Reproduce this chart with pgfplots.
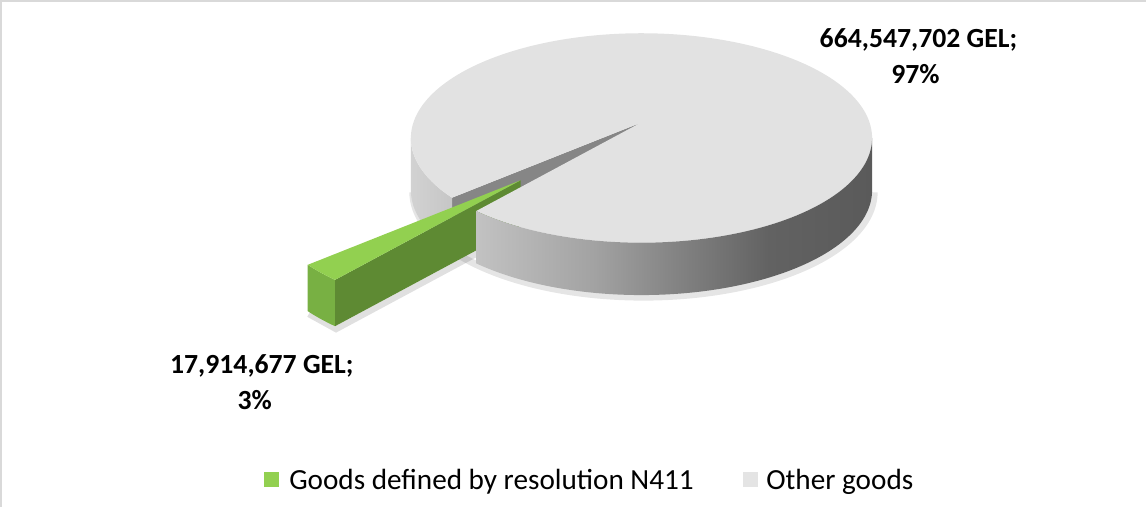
\documentclass[border=0pt]{standalone}
\usepackage{pgfplots}
\pgfplotsset{compat=1.18}
\usepackage{pgfplotstable}
\usepackage{fontspec}
\setmainfont{Carlito}
\definecolor{frameg}{HTML}{D9D9D9}
\definecolor{topg}{HTML}{E2E2E2}
\definecolor{legg}{HTML}{E4E4E4}
\definecolor{notchg}{HTML}{868686}
\definecolor{rimL1}{HTML}{D2D2D2}
\definecolor{rimL2}{HTML}{C6C6C6}
\definecolor{rimR1}{HTML}{C2C2C2}
\definecolor{rimR2}{HTML}{A2A2A2}
\definecolor{rimR3}{HTML}{7E7E7E}
\definecolor{rimR4}{HTML}{626262}
\definecolor{rimR5}{HTML}{5A5A5A}
\definecolor{gtop}{HTML}{92D050}
\definecolor{grim}{HTML}{78B043}
\definecolor{gdark}{HTML}{5E8A33}
\pgfdeclarehorizontalshading{rimshade}{100bp}{color(0bp)=(rimR1); color(25bp)=(rimR1); color(40bp)=(rimR2); color(52bp)=(rimR3); color(62bp)=(rimR4); color(75bp)=(rimR5); color(100bp)=(rimR5)}

\pgfplotstableread{
label value
N411 17914677
Other 664547702
}\pietable
\pgfplotstablegetelem{0}{value}\of\pietable \edef\valA{\pgfplotsretval}
\pgfplotstablegetelem{1}{value}\of\pietable \edef\valB{\pgfplotsretval}
% geometry (pixels, y downward)
\def\CX{646}\def\CY{148}\def\RX{229}\def\RY{104}
\def\AX{645}\def\AY{133}\def\H{52}
\def\GX{526}\def\GY{190}\def\GK{1.13}\def\GH{46}
\def\MidAng{140.5}
\edef\tSpan{\fpeval{round(360*\valA/(\valA+\valB),4)}}
\edef\tA{\fpeval{round(\MidAng-\tSpan/2,4)}}
\edef\tB{\fpeval{round(\MidAng+\tSpan/2,4)}}
\edef\tAA{\fpeval{round(\tA+360,4)}}

\begin{document}
\begin{tikzpicture}
\begin{axis}[
  scale only axis, width=1147pt, height=514pt,
  xmin=0, xmax=1147, ymin=0, ymax=514, y dir=reverse,
  hide axis, clip=false,
  declare function={
    ex(\t)=\CX+\RX*cos(\t);
    ey(\t)=\CY+\RY*sin(\t);
    cl(\u)=min(max(\u,0),1);
    px(\t,\a,\k)=\a+\k*(ex(\t)-\AX);
    py(\t,\a,\k)=\a+\k*(ey(\t)-\AY);
    rt(\s,\a,\b)=\a+(\b-\a)*cl(\s)-(\b-\a)*cl(\s-2);
    ro(\s,\h)=\h*cl(\s-1);
    wt(\s,\a,\b)=\a+(\b-\a)*cl(\s);
    ww(\s)=cl(\s-1);
  },
  legend style={at={(axis description cs:0.2337,0.0514)}, anchor=west,
    draw=none, fill=none, legend columns=2,
    font=\fontsize{29}{35}\selectfont,
    /tikz/every even column/.append style={column sep=47pt}},
  legend cell align=left,
]
% chart frame
\addplot[forget plot, draw=frameg, line width=2pt] coordinates {(10,514) (10,12) (1147,12)};

% soft shadows
\addplot[forget plot, draw=black, opacity=0.10, line width=7pt, domain=0:180, samples=91]
  ({ex(x)+2}, {ey(x)+\H+2});
\addplot[forget plot, draw=black, opacity=0.12, line width=6pt, samples at={0,1,2}]
  ({px(\tB,\GX,\GK)+(px(\tA,\GX,\GK)-px(\tB,\GX,\GK))*cl(x)+(\GX-px(\tA,\GX,\GK))*cl(x-1)+1},
   {py(\tB,\GY,\GK)+\GH+3+(py(\tA,\GY,\GK)-py(\tB,\GY,\GK))*cl(x)+(\GY-py(\tA,\GY,\GK))*cl(x-1)});

% gray: radial face at tB visible through the notch
\addplot[forget plot, draw=none, fill=notchg, samples at={0,1,2,3}]
  ({\AX+(px(\tB,\AX,1)-\AX)*(cl(x)-cl(x-2))},
   {\AY+(py(\tB,\AY,1)-\AY)*(cl(x)-cl(x-2))+\H*cl(x-1)});
% gray: left rim
\addplot[forget plot, draw=none, left color=rimL1, right color=rimL2, domain=0:3, samples=151]
  ({px(rt(x,\tB,180),\AX,1)}, {py(rt(x,\tB,180),\AY,1)+ro(x,\H)});

% green slice: outer rim
\addplot[forget plot, draw=none, fill=grim, domain=0:3, samples=91]
  ({px(rt(x,\tA,\tB),\GX,\GK)}, {py(rt(x,\tA,\tB),\GY,\GK)+ro(x,\GH)});
% green slice: radial face at tA
\addplot[forget plot, draw=none, fill=gdark, samples at={0,1,2,3}]
  ({\GX+(px(\tA,\GX,\GK)-\GX)*(cl(x)-cl(x-2))},
   {\GY+(py(\tA,\GY,\GK)-\GY)*(cl(x)-cl(x-2))+\GH*cl(x-1)});
% green slice: top face
\addplot[forget plot, draw=none, fill=gtop, domain=0:2, samples=61]
  ({(1-ww(x))*px(wt(x,\tA,\tB),\GX,\GK)+ww(x)*\GX},
   {(1-ww(x))*py(wt(x,\tA,\tB),\GY,\GK)+ww(x)*\GY});

% gray: top face
\addplot[forget plot, draw=none, fill=topg, domain=0:2, samples=601]
  ({(1-ww(x))*px(wt(x,\tB,\tAA),\AX,1)+ww(x)*\AX},
   {(1-ww(x))*py(wt(x,\tB,\tAA),\AY,1)+ww(x)*\AY});
% gray: right rim
\addplot[forget plot, draw=none, shading=rimshade, domain=0:3, samples=451]
  ({px(rt(x,0,\tA),\AX,1)}, {py(rt(x,0,\tA),\AY,1)+ro(x,\H)});

% data labels
\node[anchor=base, font=\bfseries\fontsize{27.5}{34}\selectfont] at (axis cs:921,58) {664,547,702 GEL;};
\node[anchor=base, font=\bfseries\fontsize{27.5}{34}\selectfont] at (axis cs:918,94) {97\%};
\node[anchor=base, font=\bfseries\fontsize{27.5}{34}\selectfont] at (axis cs:269,382) {17,914,677 GEL;};
\node[anchor=base, font=\bfseries\fontsize{27.5}{34}\selectfont] at (axis cs:262,418) {3\%};

% legend
\addlegendimage{legend image code/.code={\fill[gtop, draw=none] (0pt,-7.5pt) rectangle (15pt,7.5pt); \path[draw=none, fill=none] (0pt,0pt) -- (23pt,0pt);}}
\addlegendentry{Goods defined by resolution N411}
\addlegendimage{legend image code/.code={\fill[legg, draw=none] (0pt,-7.5pt) rectangle (15pt,7.5pt); \path[draw=none, fill=none] (0pt,0pt) -- (21pt,0pt);}}
\addlegendentry{Other goods}
\end{axis}
\end{tikzpicture}
\end{document}
